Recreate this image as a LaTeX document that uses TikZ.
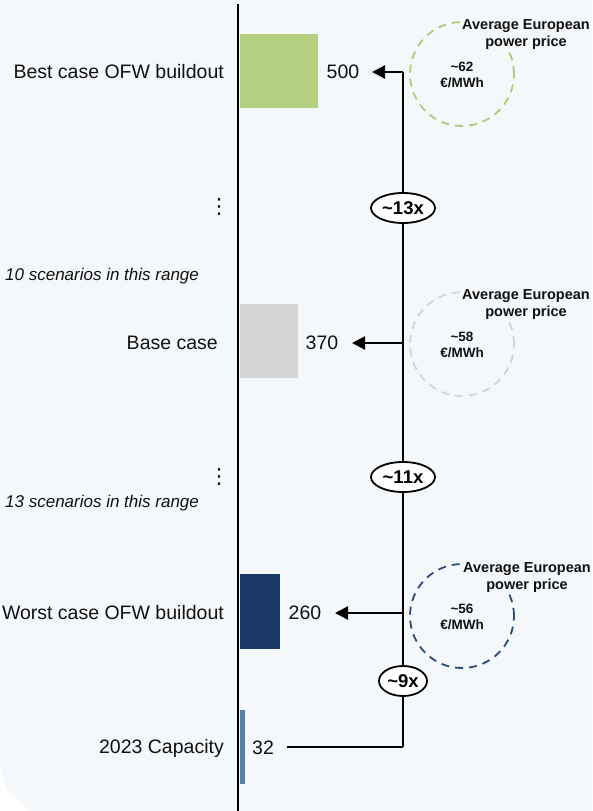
\documentclass[tikz,border=0pt]{standalone}
\usepackage{fontspec}
\setmainfont{Liberation Sans}
\newfontfamily\djv{DejaVu Sans}
\usetikzlibrary{arrows.meta,shapes.geometric}
\definecolor{bgc}{HTML}{F5F8FB}
\definecolor{txt}{HTML}{111111}
\definecolor{grn}{HTML}{B4CF7F}
\definecolor{grnd}{HTML}{AECB7C}
\definecolor{gry}{HTML}{D6D6D6}
\definecolor{gryd}{HTML}{D4D4D4}
\definecolor{nvy}{HTML}{1A3966}
\definecolor{nvyd}{HTML}{2B4B78}
\definecolor{stl}{HTML}{5A7FA0}
\tikzset{
  lbl/.style={anchor=east,inner sep=0pt,text=txt,font=\fontsize{19.5}{23}\selectfont},
  val/.style={inner sep=0pt,text=txt,font=\fontsize{19.5}{23}\selectfont},
  rng/.style={anchor=west,inner sep=0pt,text=txt,font=\fontsize{17}{20}\selectfont\itshape},
  vdot/.style={inner sep=0pt,text=txt,font=\djv\fontsize{21}{24}\selectfont},
  bar/.style={draw=none,inner sep=0pt},
  conn/.style={draw=black,line width=2.3pt},
  arr/.style={conn,-{Triangle[length=13pt,width=13pt]}},
  mult/.style={ellipse,draw=black,line width=1.8pt,fill=white,inner sep=0pt,minimum height=30pt,text=black,font=\bfseries\fontsize{18.5}{22}\selectfont},
  pcirc/.style={circle,dashed,dash pattern=on 8pt off 6pt,line width=1.8pt,minimum size=104pt,inner sep=0pt},
  phead/.style={align=center,inner sep=1pt,fill=bgc,text=txt,font=\bfseries\fontsize{14.5}{17}\selectfont},
  pval/.style={align=center,inner sep=0pt,text=txt,font=\bfseries\fontsize{13.5}{16}\selectfont},
}
\begin{document}
\begin{tikzpicture}[x=1pt,y=-1pt]
\useasboundingbox (0,0) rectangle (592,811);
\fill[white] (0,0) rectangle (592,811);
\begin{scope}
\clip (0,0) rectangle (592,811);
\fill[bgc,rounded corners=56pt] (0,-100) rectangle (700,816);
\end{scope}
% axis
\coordinate (axtop) at (238,4);
\coordinate (axbot) at (238,811);
\draw[line width=2.8pt,black] (axtop) -- (axbot);
% bars
\node[bar,fill=grn,anchor=north west,minimum width=78pt,minimum height=74pt] (b1) at (239.4,34) {};
\node[bar,fill=gry,anchor=north west,minimum width=58pt,minimum height=74pt] (b2) at (239.4,304) {};
\node[bar,fill=nvy,anchor=north west,minimum width=40pt,minimum height=75pt] (b3) at (239.4,574) {};
\node[bar,fill=stl,anchor=north west,minimum width=5pt,minimum height=74pt] (b4) at (239.4,710) {};
% labels
\node[lbl] (l1) at (224,72) {Best case OFW buildout};
\node[lbl] (l2) at (218,343) {Base case};
\node[lbl] (l3) at (224,613) {Worst case OFW buildout};
\node[lbl] (l4) at (224,748) {2023 Capacity};
\node[rng] (r1) at (5,276) {10 scenarios in this range};
\node[rng] (r2) at (5,503) {13 scenarios in this range};
\node[vdot] (d1) at (219,207) {⋮};
\node[vdot] (d2) at (219,477) {⋮};
% values
\node[val] (v1) at (343,72) {500};
\node[val] (v2) at (322,343) {370};
\node[val] (v3) at (305,613) {260};
\node[val] (v4) at (263,748) {32};
% spine
\coordinate (j1) at (403,72);
\coordinate (j2) at (403,343);
\coordinate (j3) at (403,613);
\coordinate (j4) at (403,747);
\coordinate (t1) at (372,72);
\coordinate (t2) at (352,343);
\coordinate (t3) at (335,613);
\coordinate (s4) at (287,747);
\draw[conn] (j1) -- (j4);
\draw[conn] (s4) -- (j4);
\draw[arr] (j1) -- (t1);
\draw[arr] (j2) -- (t2);
\draw[arr] (j3) -- (t3);
\node[mult,minimum width=64pt] (m1) at (403,208) {\char`\~13x};
\node[mult,minimum width=64pt] (m2) at (403,477) {\char`\~11x};
\node[mult,minimum width=48pt] (m3) at (403,681) {\char`\~9x};
% price circles
\node[pcirc,draw=grnd] (c1) at (462,74) {};
\node[pcirc,draw=gryd] (c2) at (462,344) {};
\node[pcirc,draw=nvyd] (c3) at (462,616) {};
\node[phead] (h1) at (526,34.5) {Average European\\power price};
\node[phead] (h2) at (526,304.5) {Average European\\power price};
\node[phead] (h3) at (527,577.5) {Average European\\power price};
\node[pval] (p1) at (462,75) {\char`\~62\\€/MWh};
\node[pval] (p2) at (462,345) {\char`\~58\\€/MWh};
\node[pval] (p3) at (462,617) {\char`\~56\\€/MWh};
\end{tikzpicture}
\end{document}
